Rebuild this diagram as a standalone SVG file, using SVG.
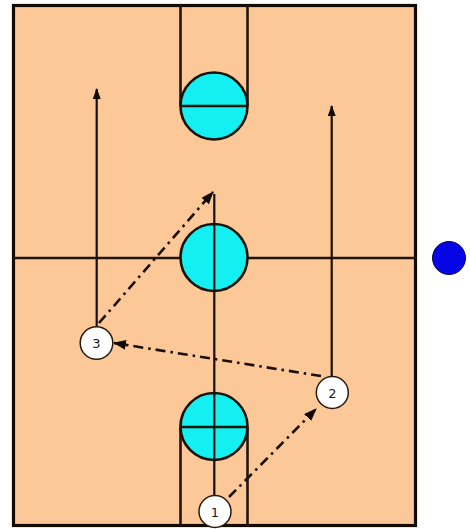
<svg xmlns="http://www.w3.org/2000/svg" width="470" height="529" viewBox="0 0 470 529">
  <style>
    .court { fill: #FDC897; stroke: #140a04; stroke-width: 3.2; }
    .ln { stroke: #22140a; stroke-width: 2.6; fill: none; }
    .circ { fill: #14F0F2; stroke: #1a120a; stroke-width: 2.6; }
    .mv { stroke: #1a0f08; stroke-width: 2.2; fill: none; }
    .pass { stroke: #1a0f08; stroke-width: 2.6; fill: none; stroke-dasharray: 10 5 2.5 5; }
    .player { fill: #FFFFFF; stroke: #2a1a0e; stroke-width: 1.5; }
    .lbl { font-family: "DejaVu Sans", "Liberation Sans", sans-serif; font-size: 13px; fill: #1a1a1a; text-anchor: middle; }
  </style>
  <defs>
    <marker id="ah" markerUnits="userSpaceOnUse" markerWidth="13" markerHeight="10" refX="12" refY="5" orient="auto">
      <path d="M0,0 L13,5 L0,10 z" fill="#140a04"/>
    </marker>
    <marker id="ahs" markerUnits="userSpaceOnUse" markerWidth="11" markerHeight="8" refX="10" refY="4" orient="auto">
      <path d="M0,0 L11,4 L0,8 z" fill="#140a04"/>
    </marker>
  </defs>

  <g id="court">
    <rect class="court" x="13.5" y="5.5" width="402" height="520"/>
    <line class="ln" x1="12" y1="258" x2="417" y2="258" stroke-width="3"/>
    <line class="ln" x1="180.5" y1="5" x2="180.5" y2="106"/>
    <line class="ln" x1="247.5" y1="5" x2="247.5" y2="106"/>
    <line class="ln" x1="180.5" y1="427" x2="180.5" y2="526"/>
    <line class="ln" x1="247.5" y1="427" x2="247.5" y2="526"/>
  </g>

  <g id="top-circle">
    <circle class="circ" cx="214" cy="106" r="33.5"/>
    <line class="ln" x1="180.5" y1="106" x2="247.5" y2="106" stroke-width="3"/>
  </g>
  <g id="center-circle">
    <circle class="circ" cx="214" cy="257.5" r="33.5"/>
  </g>
  <g id="bottom-circle">
    <circle class="circ" cx="214" cy="426.5" r="33.5"/>
    <line class="ln" x1="180.5" y1="427" x2="247.5" y2="427" stroke-width="3"/>
  </g>

  <g id="connectors">
    <line class="mv" x1="96.7" y1="327" x2="96.7" y2="89" marker-end="url(#ahs)"/>
    <line class="mv" x1="331.7" y1="376" x2="331.7" y2="106" marker-end="url(#ahs)"/>
    <line class="mv" x1="214.3" y1="495" x2="214.3" y2="194"/>
    <line class="pass" x1="99" y1="323" x2="213" y2="192" marker-end="url(#ah)"/>
    <line class="pass" x1="321" y1="376" x2="114" y2="343" marker-end="url(#ah)"/>
    <line class="pass" x1="229" y1="497" x2="316" y2="409" marker-end="url(#ah)"/>
  </g>

  <g id="player-1">
    <circle class="player" cx="215" cy="511.5" r="16"/>
    <text class="lbl" x="215" y="516.5">1</text>
  </g>
  <g id="player-2">
    <circle class="player" cx="332.3" cy="392.5" r="16"/>
    <text class="lbl" x="332.3" y="397.5">2</text>
  </g>
  <g id="player-3">
    <circle class="player" cx="96.5" cy="343" r="16.3"/>
    <text class="lbl" x="96.5" y="348">3</text>
  </g>

  <g id="ball">
    <circle cx="449" cy="258" r="16.5" fill="#0505E6" stroke="#0a0a50" stroke-width="1"/>
  </g>
</svg>
